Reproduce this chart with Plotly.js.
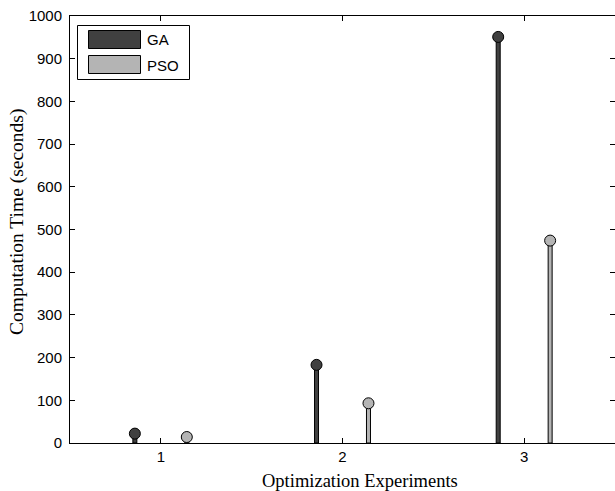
<!DOCTYPE html>
<html><head><meta charset="utf-8">
<script src="https://cdn.plot.ly/plotly-3.0.1.min.js"></script>
<style>html,body{margin:0;padding:0;background:#fff}</style>
</head><body>
<div id="chart" style="width:615px;height:491px"></div>
<script>
const experiments = [1, 2, 3];
const tickLabelsX = ['1', '2', '3'];
const seriesNames = ['GA', 'PSO'];
const gaTimes = [22, 183, 951];
const psoTimes = [14, 93, 474];
const yTicks = [0, 100, 200, 300, 400, 500, 600, 700, 800, 900, 1000];
const seriesColors = ['#404040', '#b4b4b4'];
const xTitle = 'Optimization Experiments';
const yTitle = 'Computation Time (seconds)';

const seriesValues = [gaTimes, psoTimes];
const OFFSETS = [-0.143, 0.143];
const STEM = 0.022;
const L = 70, R = 615, T = 16, B = 443;
const px = x => (x - L) / (R - L);
const py = y => (B - y) / (B - T);

const traces = [];
seriesValues.forEach((vals, i) => {
  traces.push({
    type: 'bar', x: experiments, y: vals, width: STEM,
    offset: OFFSETS[i] - STEM / 2,
    marker: {color: seriesColors[i], line: {color: '#000', width: 1}},
    hoverinfo: 'skip', showlegend: false
  });
});
seriesValues.forEach((vals, i) => {
  traces.push({
    type: 'scatter', mode: 'markers',
    x: experiments.map(v => v + OFFSETS[i]), y: vals,
    marker: {size: 11, color: seriesColors[i], line: {color: '#000', width: 1}},
    cliponaxis: false, showlegend: false, name: seriesNames[i]
  });
});

const tickFont = {family: 'Liberation Sans, Arial, sans-serif', size: 15, color: '#000'};
const xTitleFont = {family: 'Liberation Serif, Times New Roman, serif', size: 18.5, color: '#000'};
const yTitleFont = {family: 'Liberation Serif, Times New Roman, serif', size: 19.5, color: '#000'};

const shapes = [
  {type: 'rect', xref: 'paper', yref: 'paper', x0: px(77.5), x1: px(189.5), y0: py(79.5), y1: py(25.5),
   line: {color: '#000', width: 1}, fillcolor: '#fff'}
];
const annotations = [
  {xref: 'paper', yref: 'paper', x: px(360), y: py(481), text: xTitle, showarrow: false,
   xanchor: 'center', yanchor: 'middle', font: xTitleFont},
  {xref: 'paper', yref: 'paper', x: px(17), y: py(222), text: yTitle, showarrow: false, textangle: -90,
   xanchor: 'center', yanchor: 'middle', font: yTitleFont}
];
const patchTops = [30.5, 55.5];
seriesNames.forEach((name, i) => {
  shapes.push({type: 'rect', xref: 'paper', yref: 'paper', x0: px(88.5), x1: px(140.5),
    y0: py(patchTops[i] + 18), y1: py(patchTops[i]),
    line: {color: '#000', width: 1}, fillcolor: seriesColors[i]});
  annotations.push({xref: 'paper', yref: 'paper', x: px(145), y: py(patchTops[i] + 9.5), text: name,
    showarrow: false, xanchor: 'left', yanchor: 'middle', font: tickFont});
});

const layout = {
  width: 615, height: 491,
  margin: {l: 70, r: 0, t: 16, b: 48, pad: 0},
  paper_bgcolor: '#fff', plot_bgcolor: '#fff',
  barmode: 'overlay', showlegend: false,
  xaxis: {range: [0.5, 3.5], tickmode: 'array', tickvals: experiments, ticktext: tickLabelsX,
    ticks: 'inside', ticklen: 5, tickcolor: '#000', showline: true, linecolor: '#000', linewidth: 1,
    mirror: 'ticks', zeroline: false, showgrid: false, tickfont: tickFont, fixedrange: true},
  yaxis: {range: [0, 1000], tickmode: 'array', tickvals: yTicks, ticktext: yTicks.map(String),
    ticks: 'inside', ticklen: 5, tickcolor: '#000', showline: true, linecolor: '#000', linewidth: 1,
    mirror: 'ticks', zeroline: false, showgrid: false, tickfont: tickFont, ticklabelstandoff: 4, fixedrange: true},
  shapes: shapes,
  annotations: annotations
};

Plotly.newPlot('chart', traces, layout, {displayModeBar: false, staticPlot: true});
</script>
</body></html>
